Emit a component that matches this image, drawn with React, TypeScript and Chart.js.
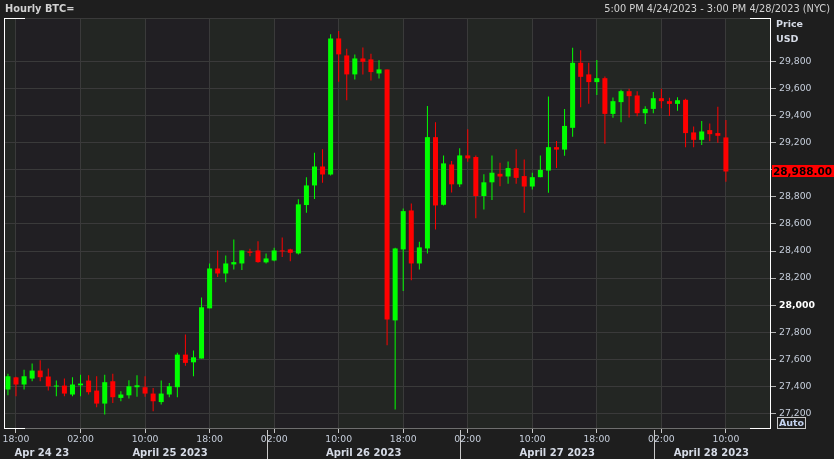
import React, { useEffect, useRef } from 'react';
import { Chart, registerables } from 'chart.js';

Chart.register(...registerables);

// ---- data (hourly candles, index 0 = 17:00 Apr 24) ----
const opens = [
  27376, 27466, 27413, 27457, 27516, 27472, 27398, 27405, 27339, 27407,
  27442, 27368, 27272, 27437, 27314, 27333, 27393, 27393, 27346, 27283,
  27339, 27393, 27634, 27577, 27605, 27976, 28271, 28234, 28301, 28308,
  28397, 28404, 28316, 28330, 28404, 28412, 28382, 28740, 28885, 29025,
  28966, 29972, 29846, 29706, 29824, 29817, 29713, 29743, 27887, 28412,
  28700, 28308, 28419, 29242, 28742, 29040, 28893, 29107, 29095, 28807,
  28908, 28971, 28951, 29013, 28954, 28877, 28946, 28995, 29168, 29150,
  29311, 29792, 29706, 29649, 29678, 29414, 29501, 29582, 29550, 29419,
  29451, 29530, 29508, 29488, 29518, 29277, 29222, 29294, 29272, 29240,
];
const highs = [
  27492, 27470, 27523, 27568, 27592, 27531, 27442, 27457, 27467, 27486,
  27481, 27474, 27486, 27492, 27363, 27444, 27481, 27474, 27388, 27442,
  27425, 27647, 27782, 27664, 28056, 28308, 28404, 28367, 28486, 28404,
  28417, 28473, 28382, 28424, 28500, 28417, 28782, 28946, 29127, 29152,
  30002, 30026, 29896, 29854, 29905, 29859, 29810, 29743, 28424, 28715,
  28752, 28469, 29472, 29353, 29107, 29065, 29159, 29300, 29107, 28967,
  29107, 29053, 29062, 29152, 29077, 28978, 29107, 29543, 29213, 29450,
  29903, 29884, 29792, 29813, 29691, 29535, 29592, 29599, 29582, 29471,
  29575, 29599, 29534, 29537, 29525, 29321, 29361, 29343, 29467, 29369,
];
const lows = [
  27333, 27326, 27376, 27437, 27437, 27368, 27326, 27326, 27326, 27326,
  27339, 27245, 27191, 27277, 27289, 27309, 27322, 27322, 27215, 27265,
  27319, 27319, 27551, 27474, 27605, 27976, 28207, 28170, 28264, 28259,
  28362, 28313, 28308, 28325, 28355, 28325, 28375, 28683, 28785, 28905,
  28959, 29652, 29514, 29669, 29706, 29661, 29676, 27704, 27229, 28104,
  28183, 28264, 28382, 28560, 28737, 28833, 28873, 29060, 28643, 28707,
  28777, 28879, 28897, 28897, 28683, 28855, 28946, 28831, 29013, 29105,
  29245, 29463, 29489, 29554, 29193, 29386, 29353, 29388, 29396, 29340,
  29419, 29456, 29399, 29438, 29167, 29167, 29184, 29212, 29201, 28913,
];
const closes = [
  27474, 27413, 27474, 27516, 27467, 27400, 27405, 27346, 27413, 27420,
  27356, 27272, 27430, 27319, 27339, 27400, 27407, 27346, 27289, 27346,
  27400, 27634, 27573, 27614, 27984, 28271, 28234, 28308, 28318, 28404,
  28387, 28318, 28345, 28404, 28397, 28387, 28745, 28885, 29025, 28966,
  29972, 29854, 29706, 29824, 29799, 29723, 29743, 27894, 28419, 28695,
  28308, 28427, 29242, 28737, 29048, 28893, 29107, 29085, 28807, 28908,
  28979, 28951, 29013, 28941, 28877, 28946, 29000, 29168, 29150, 29325,
  29792, 29688, 29649, 29678, 29414, 29508, 29582, 29545, 29419, 29451,
  29530, 29508, 29488, 29515, 29272, 29222, 29284, 29264, 29252, 28988,
];

const timeTickIndex = [1, 9, 17, 25, 33, 41, 49, 57, 65, 73, 81, 89];
const timeTickLabels = ['18:00', '02:00', '10:00', '18:00', '02:00', '10:00', '18:00', '02:00', '10:00', '18:00', '02:00', '10:00'];
const priceTicks = [27200, 27400, 27600, 27800, 28000, 28200, 28400, 28600, 28800, 29000, 29200, 29400, 29600, 29800];
const dateLabels = ['Apr 24 23', 'April 25 2023', 'April 26 2023', 'April 27 2023', 'April 28 2023'];
const dateLabelAt = [4.2, 20.1, 44.1, 68.1, 87.2];
const daySeparators = [32.1, 56.1, 80.1];
const lightBandStarts = [-7, 9, 25, 41, 57, 73, 89];
const titleText = 'Hourly BTC=';
const rangeText = '5:00 PM 4/24/2023 - 3:00 PM 4/28/2023 (NYC)';

const X_MIN = -0.363;
const X_MAX = 94.59;
const Y_MIN = 27084;
const Y_MAX = 30123;

const PAGE_BG = '#1e1e1e';
const DARK_BAND = '#211f23';
const LIGHT_BAND = '#232623';
const GRID = '#3a3a3a';
const UP = '#00ff00';
const DOWN = '#ff0000';
const LABEL = '#c6cedb';
const FONT = "'DejaVu Sans', sans-serif";

export default function App() {
  const ref = useRef<HTMLCanvasElement | null>(null);

  useEffect(() => {
    document.body.style.margin = '0';
    document.body.style.background = PAGE_BG;
    const canvas = ref.current;
    if (!canvas) return;
    const idx = opens.map((_, i) => i);
    const colors = idx.map((i) => (closes[i] >= opens[i] ? UP : DOWN));
    const lastPrice = closes[closes.length - 1];

    const bgPlugin = {
      id: 'bgBands',
      beforeDraw(chart: any) {
        const { ctx, chartArea: a } = chart;
        const x = chart.scales.x;
        ctx.save();
        ctx.fillStyle = PAGE_BG;
        ctx.fillRect(0, 0, chart.width, chart.height);
        ctx.fillStyle = DARK_BAND;
        ctx.fillRect(a.left, a.top, a.right - a.left, a.bottom - a.top);
        ctx.fillStyle = LIGHT_BAND;
        for (const s of lightBandStarts) {
          const x0 = Math.max(a.left, Math.round(x.getPixelForValue(s)));
          const x1 = Math.min(a.right, Math.round(x.getPixelForValue(s + 8)));
          if (x1 > x0) ctx.fillRect(x0, a.top, x1 - x0, a.bottom - a.top);
        }
        ctx.restore();
      },
    };

    const overlayPlugin = {
      id: 'overlay',
      afterDraw(chart: any) {
        const { ctx, chartArea: a } = chart;
        const x = chart.scales.x;
        const y = chart.scales.y;
        ctx.save();
        // frame
        ctx.lineWidth = 1;
        ctx.strokeStyle = GRID;
        ctx.beginPath();
        ctx.moveTo(a.left, a.top + 0.5);
        ctx.lineTo(a.right, a.top + 0.5);
        ctx.stroke();
        ctx.strokeStyle = '#6e6e6e';
        ctx.beginPath();
        ctx.moveTo(a.left, a.bottom - 0.5);
        ctx.lineTo(a.right, a.bottom - 0.5);
        ctx.stroke();
        ctx.strokeStyle = '#ffffff';
        ctx.beginPath();
        ctx.moveTo(a.left - 0.5, a.top);
        ctx.lineTo(a.left - 0.5, a.bottom);
        ctx.moveTo(a.right - 0.5, a.top);
        ctx.lineTo(a.right - 0.5, a.bottom);
        ctx.moveTo(a.left, a.top + 0.5);
        ctx.lineTo(a.left + 20, a.top + 0.5);
        ctx.moveTo(a.right - 21, a.top + 0.5);
        ctx.lineTo(a.right, a.top + 0.5);
        ctx.moveTo(a.left, a.bottom - 0.5);
        ctx.lineTo(a.left + 20, a.bottom - 0.5);
        ctx.moveTo(a.right - 21, a.bottom - 0.5);
        ctx.lineTo(a.right, a.bottom - 0.5);
        ctx.stroke();

        // header
        ctx.fillStyle = '#d2d2d2';
        ctx.textBaseline = 'middle';
        ctx.textAlign = 'left';
        ctx.font = `bold 9.8px ${FONT}`;
        ctx.fillText(titleText, 5, 9.5);
        ctx.textAlign = 'right';
        ctx.font = `9.8px ${FONT}`;
        ctx.fillText(rangeText, 830, 9.5);

        // axis title
        ctx.textAlign = 'left';
        ctx.fillStyle = '#d6dbe6';
        ctx.font = `bold 9.5px ${FONT}`;
        ctx.fillText('Price', 776, 25);
        ctx.fillText('USD', 776, 40);

        // Auto box
        ctx.strokeStyle = '#c8c8c8';
        ctx.strokeRect(777.5, 417.5, 28, 11);
        ctx.fillStyle = '#c4d2ee';
        ctx.textAlign = 'center';
        ctx.font = `bold 9.5px ${FONT}`;
        ctx.fillText('Auto', 791.5, 423.5);

        // current price label
        const py = y.getPixelForValue(lastPrice);
        ctx.fillStyle = '#ff0000';
        ctx.fillRect(772, Math.round(py - 6), 62, 12);
        ctx.fillStyle = '#000000';
        ctx.textAlign = 'left';
        ctx.font = `bold 10.5px ${FONT}`;
        ctx.fillText(lastPrice.toLocaleString('en-US', { minimumFractionDigits: 2, maximumFractionDigits: 2 }), 773, py + 0.5);

        // day separators + date labels
        ctx.strokeStyle = '#c8c8c8';
        ctx.beginPath();
        for (const s of daySeparators) {
          const px = Math.round(x.getPixelForValue(s)) + 0.5;
          ctx.moveTo(px, a.bottom + 1);
          ctx.lineTo(px, chart.height);
        }
        ctx.stroke();
        ctx.fillStyle = '#d6dbe6';
        ctx.textAlign = 'center';
        ctx.font = `bold 10px ${FONT}`;
        dateLabels.forEach((t, i) => {
          ctx.fillText(t, x.getPixelForValue(dateLabelAt[i]), 453);
        });
        ctx.restore();
      },
    };

    const chart = new Chart(canvas, {
      type: 'bar',
      data: {
        datasets: [
          {
            label: 'wick',
            data: idx.map((i) => ({ x: i, y: [lows[i], highs[i]] })) as any,
            backgroundColor: colors,
            barThickness: 1,
            grouped: false,
            inflateAmount: 0,
            borderWidth: 0,
            order: 2,
          } as any,
          {
            label: 'body',
            data: idx.map((i) => ({ x: i, y: [opens[i], closes[i]] })) as any,
            backgroundColor: colors,
            barThickness: 5,
            grouped: false,
            inflateAmount: 0,
            borderWidth: 0,
            minBarLength: 1,
            order: 1,
          } as any,
        ],
      },
      options: {
        animation: false,
        responsive: false,
        devicePixelRatio: 1,
        layout: { padding: { left: 5, top: 18, right: 0, bottom: 0 } },
        plugins: { legend: { display: false }, tooltip: { enabled: false }, title: { display: false } },
        scales: {
          x: {
            type: 'linear',
            offset: false,
            min: X_MIN,
            max: X_MAX,
            afterBuildTicks: (s: any) => {
              s.ticks = timeTickIndex.map((v) => ({ value: v }));
            },
            afterFit: (s: any) => {
              s.height = 30;
              s.paddingLeft = 0;
              s.paddingRight = 0;
            },
            ticks: {
              autoSkip: false,
              maxRotation: 0,
              padding: 1,
              color: LABEL,
              font: { family: FONT, size: 9.3 },
              callback: (v: any) => timeTickLabels[timeTickIndex.indexOf(Number(v))] ?? '',
            },
            grid: { offset: false, color: GRID, tickColor: '#c8c8c8', tickLength: 4 },
            border: { display: false },
          },
          y: {
            type: 'linear',
            position: 'right',
            min: Y_MIN,
            max: Y_MAX,
            afterBuildTicks: (s: any) => {
              s.ticks = priceTicks.map((v) => ({ value: v }));
            },
            afterFit: (s: any) => {
              s.width = 63;
              s.paddingTop = 0;
              s.paddingBottom = 0;
            },
            ticks: {
              padding: 3,
              color: (c: any) => (c.tick && c.tick.value === 28000 ? '#ffffff' : LABEL),
              font: (c: any) => ({ family: FONT, size: 9.3, weight: c.tick && c.tick.value === 28000 ? 'bold' : 'normal' }),
              callback: (v: any) => Number(v).toLocaleString('en-US'),
            },
            grid: { color: GRID, tickColor: '#b4b4b4', tickLength: 5 },
            border: { display: false },
          },
        },
      } as any,
      plugins: [bgPlugin, overlayPlugin],
    });
    return () => chart.destroy();
  }, []);

  return (
    <div style={{ position: 'fixed', left: 0, top: 0, width: 834, height: 459, background: PAGE_BG }}>
      <canvas ref={ref} width={834} height={459} style={{ display: 'block', width: 834, height: 459 }} />
    </div>
  );
}
